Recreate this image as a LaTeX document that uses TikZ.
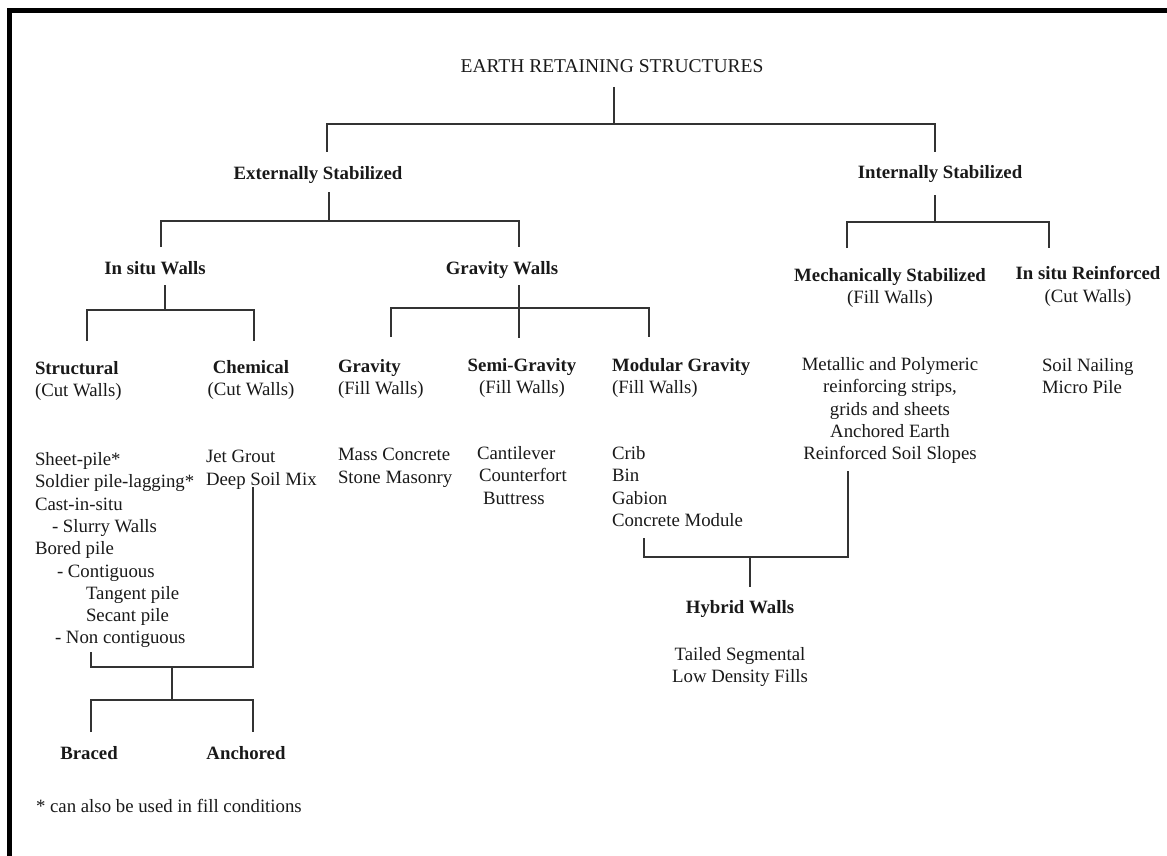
\documentclass[tikz,border=0pt]{standalone}
\usepackage{fontspec}
\setmainfont{Liberation Serif}
\begin{document}
\begin{tikzpicture}[x=1pt,y=-1pt,
  txt/.style={inner sep=0pt,outer sep=0pt,yshift=-3.5pt,font=\fontsize{18.8}{22.3}\selectfont,text=black!90},
  bld/.style={txt,font=\fontsize{18.8}{22.3}\selectfont\bfseries},
  conn/.style={draw=black!80,line width=1.3pt,line cap=butt,line join=miter}]
\useasboundingbox (0,0) rectangle (1167,856);
% frame (left and top edges)
\fill[black] (7,8) rectangle (12,856);
\fill[black] (7,8) rectangle (1167,13);

% level 0
\node[txt,font=\fontsize{19.5}{22}\selectfont,anchor=mid] (title) at (612,67) {EARTH RETAINING STRUCTURES};
% level 1
\node[bld,anchor=mid] (ext) at (318,174) {Externally Stabilized};
\node[bld,anchor=mid] (int) at (940,173) {Internally Stabilized};
% level 2
\node[bld,anchor=mid] (insitu) at (155,269) {In situ Walls};
\node[bld,anchor=mid] (gravw) at (502,269) {Gravity Walls};
\node[txt,align=center,anchor=north] (mech) at (890,265) {\textbf{Mechanically Stabilized}\\(Fill Walls)};
\node[txt,align=center,anchor=north] (insr) at (1088,263) {\textbf{In situ Reinforced}\\(Cut Walls)};
% level 3
\node[txt,align=left,anchor=north west] (struct) at (35,358) {\textbf{Structural}\\(Cut Walls)};
\node[txt,align=center,anchor=north] (chem) at (251,357) {\textbf{Chemical}\\(Cut Walls)};
\node[txt,align=left,anchor=north west] (grav) at (338,356) {\textbf{Gravity}\\(Fill Walls)};
\node[txt,align=center,anchor=north] (semi) at (522,355) {\textbf{Semi-Gravity}\\(Fill Walls)};
\node[txt,align=left,anchor=north west] (modg) at (612,355) {\textbf{Modular Gravity}\\(Fill Walls)};
% lists
\node[txt,align=left,anchor=north west] (structl) at (35,449) {Sheet-pile*\\Soldier pile-lagging*\\Cast-in-situ\\\hspace*{17pt}- Slurry Walls\\Bored pile\\\hspace*{22pt}- Contiguous\\\hspace*{51pt}Tangent pile\\\hspace*{51pt}Secant pile\\\hspace*{20pt}- Non contiguous};
\node[txt,align=left,anchor=north west] (cheml) at (206,447) {Jet Grout\\Deep Soil Mix};
\node[txt,align=left,anchor=north west] (gravl) at (338,445) {Mass Concrete\\Stone Masonry};
\node[txt,align=left,anchor=north west] (semil) at (477,443) {Cantilever\\\hspace*{2pt}Counterfort\\\hspace*{6pt}Buttress};
\node[txt,align=left,anchor=north west] (modl) at (612,443) {Crib\\Bin\\Gabion\\Concrete Module};
\node[txt,align=center,anchor=north] (mechl) at (890,354) {Metallic and Polymeric\\reinforcing strips,\\grids and sheets\\Anchored Earth\\Reinforced Soil Slopes};
\node[txt,align=left,anchor=north west] (insrl) at (1042,355) {Soil Nailing\\Micro Pile};
% hybrid
\node[bld,anchor=mid] (hyb) at (740,608) {Hybrid Walls};
\node[txt,align=center,anchor=north] (hybl) at (740,644) {Tailed Segmental\\Low Density Fills};
% support
\node[bld,anchor=mid] (braced) at (89,754) {Braced};
\node[bld,anchor=mid] (anch) at (246,754) {Anchored};
% footnote
\node[txt,anchor=mid west] (note) at (36,807) {* can also be used in fill conditions};

% junction coordinates
\coordinate (t0) at (614,87);  \coordinate (t1) at (614,124);
\coordinate (eT) at (327,152); \coordinate (iT) at (935,152);
\coordinate (e0) at (329,192); \coordinate (e1) at (329,221);
\coordinate (sT) at (161,247); \coordinate (gT) at (519,247);
\coordinate (i0) at (935,195); \coordinate (i1) at (935,222);
\coordinate (mT) at (847,248); \coordinate (rT) at (1049,248);
\coordinate (s0) at (165,285); \coordinate (s1) at (165,310);
\coordinate (stT) at (87,341); \coordinate (chT) at (254,341);
\coordinate (g0) at (519,285); \coordinate (g1) at (519,308);
\coordinate (grT) at (391,337); \coordinate (seT) at (519,338); \coordinate (moT) at (649,337);
\coordinate (h0) at (644,538); \coordinate (h1) at (848,471);
\coordinate (hj) at (750,557); \coordinate (hB) at (750,587);
\coordinate (b0) at (91,652); \coordinate (b1) at (253,487);
\coordinate (bj) at (172,667); \coordinate (bj2) at (172,700);
\coordinate (brT) at (91,732); \coordinate (anT) at (253,732);

% connectors
\draw[conn] (t0) -- (t1);
\draw[conn] (eT) |- (t1) -| (iT);
\draw[conn] (e0) -- (e1);
\draw[conn] (sT) |- (e1) -| (gT);
\draw[conn] (i0) -- (i1);
\draw[conn] (mT) |- (i1) -| (rT);
\draw[conn] (s0) -- (s1);
\draw[conn] (stT) |- (s1) -| (chT);
\draw[conn] (g0) -- (seT);
\draw[conn] (grT) |- (g1) -| (moT);
\draw[conn] (h0) |- (hj) -| (h1);
\draw[conn] (hj) -- (hB);
\draw[conn] (b0) |- (bj) -| (b1);
\draw[conn] (bj) -- (bj2);
\draw[conn] (brT) |- (bj2) -| (anT);
\end{tikzpicture}
\end{document}
